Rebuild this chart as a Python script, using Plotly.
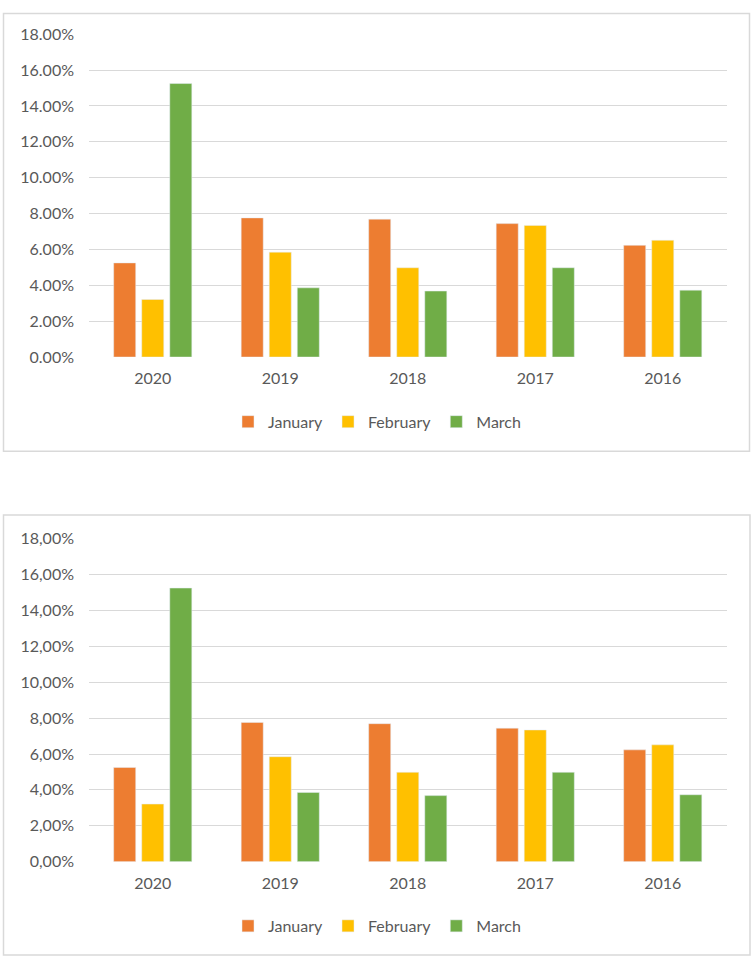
import plotly.graph_objects as go

YEARS = ["2020", "2019", "2018", "2017", "2016"]
SERIES_NAMES = ["January", "February", "March"]
JANUARY = [0.0525, 0.0776, 0.0769, 0.0744, 0.0623]
FEBRUARY = [0.0321, 0.0585, 0.0498, 0.0734, 0.0651]
MARCH = [0.1525, 0.0386, 0.0368, 0.0498, 0.0373]
TICK_VALUES = [0, 0.02, 0.04, 0.06, 0.08, 0.10, 0.12, 0.14, 0.16, 0.18]
TICK_LABELS_TOP = ["0.00%", "2.00%", "4.00%", "6.00%", "8.00%", "10.00%", "12.00%", "14.00%", "16.00%", "18.00%"]
TICK_LABELS_BOTTOM = ["0,00%", "2,00%", "4,00%", "6,00%", "8,00%", "10,00%", "12,00%", "14,00%", "16,00%", "18,00%"]
COLORS = ["#ED7D31", "#FFC000", "#70AD47"]

W, H = 754, 968
FONT = "Lato"
TXT = "#595959"
GRID = "#D9D9D9"

fig = go.Figure()
values = [JANUARY, FEBRUARY, MARCH]
for i, (name, vals) in enumerate(zip(SERIES_NAMES, values)):
    fig.add_trace(go.Bar(x=YEARS, y=vals, name=name, marker_color=COLORS[i],
                         xaxis="x", yaxis="y", legend="legend"))
for i, (name, vals) in enumerate(zip(SERIES_NAMES, values)):
    fig.add_trace(go.Bar(x=YEARS, y=vals, name=name, marker_color=COLORS[i],
                         xaxis="x2", yaxis="y2", legend="legend2"))

def fx(px):
    return px / W

def fy(py):
    return 1 - py / H

xdom = [fx(89), fx(726.5)]
common_x = dict(domain=xdom, showgrid=False, showline=False, ticks="",
                tickfont=dict(family=FONT, size=16, color=TXT), zeroline=False,
                ticklabelstandoff=10)
common_y = dict(range=[0, 0.18], tickvals=TICK_VALUES, showgrid=True, gridcolor=GRID,
                gridwidth=1, zeroline=False, showline=False, ticks="",
                tickfont=dict(family=FONT, size=16, color=TXT), ticklabelstandoff=14)

legend_common = dict(orientation="h", xanchor="center", yanchor="middle", x=0.5,
                     font=dict(family=FONT, size=16, color=TXT), bgcolor="rgba(0,0,0,0)",
                     itemwidth=30, traceorder="normal")

fig.update_layout(
    width=W, height=H,
    margin=dict(l=0, r=0, t=0, b=0),
    paper_bgcolor="white", plot_bgcolor="white",
    barmode="group", bargap=0.34, bargroupgap=0.214,
    xaxis=dict(**common_x, anchor="y"),
    yaxis=dict(**common_y, domain=[fy(354), fy(24.7)], ticktext=TICK_LABELS_TOP, anchor="x"),
    xaxis2=dict(**common_x, anchor="y2"),
    yaxis2=dict(**common_y, domain=[fy(868.7), fy(539.3)], ticktext=TICK_LABELS_BOTTOM, anchor="x2"),
    legend=dict(**legend_common, y=fy(420)),
    legend2=dict(**legend_common, y=fy(934.3)),
    shapes=[
        dict(type="rect", xref="paper", yref="paper", x0=fx(3.5), x1=fx(749.5), y0=fy(3.5), y1=fy(450),
             line=dict(color=GRID, width=1.5), fillcolor="rgba(0,0,0,0)", layer="below"),
        dict(type="rect", xref="paper", yref="paper", x0=fx(3.5), x1=fx(750), y0=fy(515), y1=fy(964),
             line=dict(color=GRID, width=1.5), fillcolor="rgba(0,0,0,0)", layer="below"),
    ],
    showlegend=True,
)

fig.write_html("out.html", config={"displayModeBar": False},
               post_script="document.body.style.margin='0';document.body.style.overflow='hidden';")
